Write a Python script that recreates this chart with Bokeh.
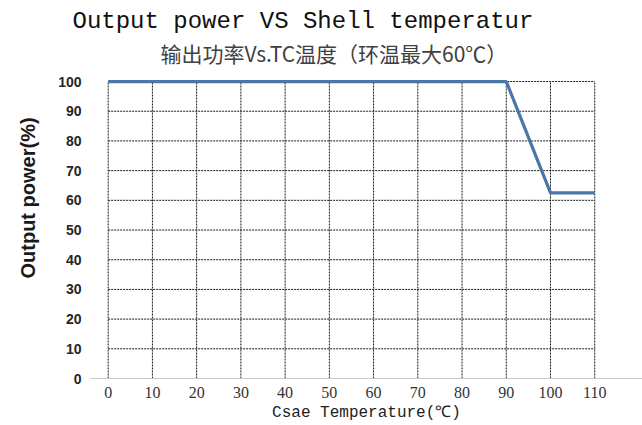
from bokeh.plotting import figure
from bokeh.models import Range1d, FixedTicker, Title
from bokeh.embed import file_html
from bokeh.resources import INLINE

# ---- data ----
case_temp = [0, 90, 100, 110]            # Csae Temperature (℃)
output_power = [100, 100, 62.5, 62.5]    # Output power (%)
x_tick_values = [0, 10, 20, 30, 40, 50, 60, 70, 80, 90, 100, 110]
y_tick_values = [0, 10, 20, 30, 40, 50, 60, 70, 80, 90, 100]

main_title = "Output power VS Shell temperatur"
sub_title = "输出功率Vs.TC温度（环温最大60℃）"
x_label = "Csae Temperature(℃)"
y_label = "Output power(%)"

p = figure(
    width=642, height=425,
    output_backend="svg", toolbar_location=None, tools="",
    x_range=Range1d(-4.0, 120.8), y_range=Range1d(0, 105.4),
    min_border_left=90, min_border_right=0, min_border_top=65, min_border_bottom=47,
    title=None,
)
p.outline_line_color = None
p.background_fill_color = "white"
p.border_fill_color = "white"
p.xgrid.visible = False
p.ygrid.visible = False

# dotted grid drawn from the tick lists
x_lo, x_hi = x_tick_values[0], x_tick_values[-1]
y_lo, y_hi = y_tick_values[0], y_tick_values[-1]
p.segment(x0=x_tick_values, y0=[y_lo] * len(x_tick_values),
          x1=x_tick_values, y1=[y_hi] * len(x_tick_values),
          line_color="#1a1a1a", line_width=1, line_dash="2 1")
p.segment(x0=[x_lo] * (len(y_tick_values) - 1), y0=y_tick_values[1:],
          x1=[x_hi] * (len(y_tick_values) - 1), y1=y_tick_values[1:],
          line_color="#1a1a1a", line_width=1, line_dash="2 1")

# data line
p.line(case_temp, output_power, line_color="#4a76a8", line_width=3.2)

# x axis
xa = p.xaxis[0]
xa.ticker = FixedTicker(ticks=x_tick_values)
xa.axis_line_color = "#c8c8c8"
xa.major_tick_line_color = None
xa.minor_tick_line_color = None
xa.major_label_text_font = "Liberation Serif"
xa.major_label_text_font_size = "16px"
xa.major_label_text_color = "#333333"
xa.major_label_standoff = 2
xa.axis_label = x_label
xa.axis_label_text_font = "Liberation Mono"
xa.axis_label_text_font_size = "16px"
xa.axis_label_text_font_style = "normal"
xa.axis_label_text_color = "#222222"
xa.axis_label_standoff = 3

# y axis
ya = p.yaxis[0]
ya.ticker = FixedTicker(ticks=y_tick_values)
ya.axis_line_color = None
ya.major_tick_line_color = None
ya.minor_tick_line_color = None
ya.major_label_text_font = "Liberation Sans"
ya.major_label_text_font_style = "bold"
ya.major_label_text_font_size = "14px"
ya.major_label_text_color = "#262626"
ya.major_label_standoff = 3

# y axis title (on the left, shifted toward the top like the reference)
p.add_layout(Title(text=y_label, align="left", offset=100, vertical_align="top",
                   standoff=30, text_font="Liberation Sans", text_font_style="bold",
                   text_font_size="20px", text_color="#1a1a1a"), "left")

# titles above: chart subtitle nearest to the frame, main title on top
p.add_layout(Title(text=sub_title, align="left", offset=70, standoff=-4,
                   vertical_align="bottom",
                   text_font="Noto Sans CJK SC", text_font_style="normal",
                   text_font_size="21px", text_color="#404040"), "above")
p.add_layout(Title(text=main_title, align="left", offset=-18, standoff=4,
                   vertical_align="middle",
                   text_font="Liberation Mono", text_font_style="normal",
                   text_font_size="24px", text_color="#111111"), "above")

open("out.html", "w").write(file_html(p, INLINE))
